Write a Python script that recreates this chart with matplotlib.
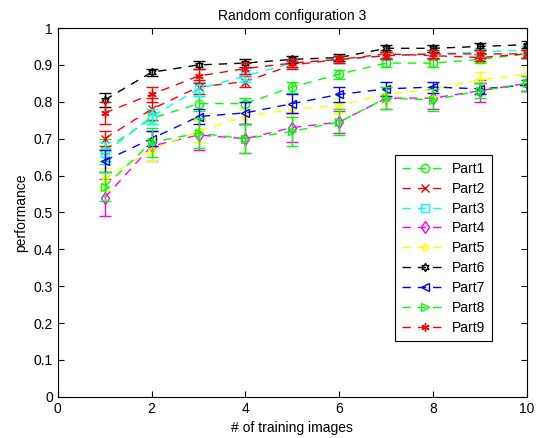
import matplotlib
matplotlib.use("Agg")
import matplotlib.pyplot as plt

x = [1, 2, 3, 4, 5, 6, 7, 8, 9, 10]
labels = ["Part1", "Part2", "Part3", "Part4", "Part5", "Part6", "Part7", "Part8", "Part9"]
colors = ["#00ff00", "#ff0000", "#00ffff", "#ff00ff", "#ffff00", "#000000", "#0000ff", "#00ff00", "#ff0000"]
markers = ["o", "x", "s", "d", (5, 1, 0), (6, 1, 0), "<", ">", (6, 2, 0)]

part1 = [0.67, 0.755, 0.795, 0.795, 0.84, 0.875, 0.905, 0.905, 0.915, 0.93]
part2 = [0.70, 0.78, 0.84, 0.855, 0.90, 0.915, 0.93, 0.925, 0.92, 0.93]
part3 = [0.66, 0.76, 0.835, 0.87, 0.905, 0.915, 0.925, 0.93, 0.935, 0.94]
part4 = [0.54, 0.68, 0.71, 0.70, 0.73, 0.745, 0.81, 0.81, 0.83, 0.85]
part5 = [0.59, 0.67, 0.72, 0.76, 0.78, 0.79, 0.82, 0.835, 0.86, 0.875]
part6 = [0.805, 0.88, 0.90, 0.905, 0.915, 0.92, 0.945, 0.945, 0.95, 0.955]
part7 = [0.64, 0.70, 0.76, 0.77, 0.795, 0.82, 0.835, 0.84, 0.835, 0.845]
part8 = [0.57, 0.69, 0.715, 0.70, 0.72, 0.745, 0.81, 0.805, 0.83, 0.85]
part9 = [0.77, 0.82, 0.87, 0.89, 0.905, 0.915, 0.925, 0.93, 0.93, 0.93]

err1 = [0.03, 0.015, 0.02, 0.015, 0.015, 0.012, 0.01, 0.012, 0.01, 0.01]
err2 = [0.02, 0.03, 0.02, 0.015, 0.01, 0.01, 0.01, 0.01, 0.01, 0.01]
err3 = [0.03, 0.02, 0.02, 0.015, 0.01, 0.01, 0.01, 0.01, 0.01, 0.01]
err4 = [0.05, 0.04, 0.04, 0.04, 0.04, 0.03, 0.03, 0.03, 0.03, 0.02]
err5 = [0.03, 0.03, 0.03, 0.02, 0.02, 0.02, 0.02, 0.02, 0.02, 0.02]
err6 = [0.02, 0.01, 0.01, 0.01, 0.01, 0.01, 0.01, 0.01, 0.01, 0.01]
err7 = [0.03, 0.02, 0.02, 0.03, 0.025, 0.02, 0.02, 0.015, 0.015, 0.015]
err8 = [0.04, 0.04, 0.04, 0.04, 0.04, 0.035, 0.03, 0.03, 0.02, 0.02]
err9 = [0.03, 0.02, 0.02, 0.015, 0.01, 0.01, 0.01, 0.01, 0.01, 0.01]

values = [part1, part2, part3, part4, part5, part6, part7, part8, part9]
errors = [err1, err2, err3, err4, err5, err6, err7, err8, err9]

plt.rcParams["font.family"] = ["Liberation Sans", "DejaVu Sans"]

fig = plt.figure(figsize=(5.45, 4.38), dpi=100)
ax = fig.add_axes([0.106, 0.094, 0.861, 0.842])

dash = (0, (6, 5))
for lab, col, mk, y, e in zip(labels, colors, markers, values, errors):
    # barras de erro (fora da legenda)
    ax.errorbar(x, y, yerr=e, fmt="none", ecolor=col, elinewidth=1.0, capsize=4)
    ax.plot(x, y, color=col, linestyle=dash, linewidth=1.0, marker=mk,
            markersize=6, markerfacecolor="none", markeredgecolor=col,
            markeredgewidth=1.0, label=lab)

ax.set_xlim(0, 10)
ax.set_ylim(0, 1)
ax.set_xticks(range(0, 11, 2))
ax.set_yticks([i / 10 for i in range(11)])
ax.set_yticklabels(["0", "0.1", "0.2", "0.3", "0.4", "0.5", "0.6", "0.7", "0.8", "0.9", "1"])
ax.tick_params(direction="in", top=True, right=True, labelsize=10, length=4)
ax.set_xlabel("# of training images", fontsize=10)
ax.set_ylabel("performance", fontsize=10)
ax.set_title("Random configuration 3", fontsize=10)

leg = ax.legend(loc="upper left", bbox_to_anchor=(0.718, 0.656), fontsize=10,
                fancybox=False, edgecolor="black", framealpha=1,
                handlelength=3.3, handletextpad=0.3, labelspacing=0.42,
                borderpad=0.5, borderaxespad=0)
leg.get_frame().set_linewidth(0.8)

fig.savefig("out.png", dpi=100)
